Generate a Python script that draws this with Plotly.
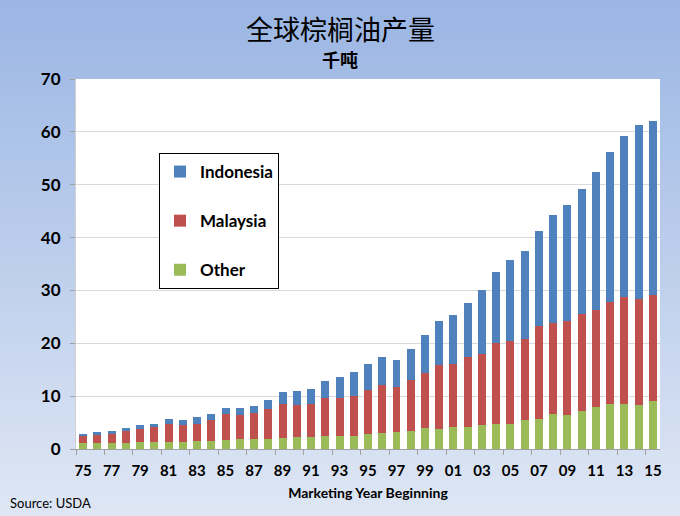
import plotly.graph_objects as go

years = list(range(1975, 2016))
other = [1.2, 1.2, 1.2, 1.2, 1.4, 1.4, 1.4, 1.4, 1.6, 1.6,
         1.75, 1.9, 1.95, 1.9, 2.1, 2.3, 2.3, 2.5, 2.5, 2.5,
         2.8, 3.0, 3.2, 3.4, 4.0, 3.8, 4.2, 4.2, 4.5, 4.8,
         4.8, 5.5, 5.7, 6.7, 6.4, 7.2, 8.0, 8.6, 8.6, 8.4, 9.1]
malaysia = [1.3, 1.4, 1.7, 2.2, 2.35, 2.7, 3.35, 3.1, 3.15, 3.9,
            4.85, 4.5, 4.95, 5.7, 6.4, 6.0, 6.2, 7.2, 7.2, 7.6,
            8.3, 9.1, 8.5, 9.7, 10.4, 12.0, 11.8, 13.2, 13.4, 15.3,
            15.6, 15.3, 17.6, 17.1, 17.8, 18.3, 18.3, 19.2, 20.1, 19.9, 20.0]
indonesia = [0.4, 0.65, 0.5, 0.6, 0.85, 0.65, 0.95, 1.0, 1.35, 1.1,
             1.15, 1.35, 1.2, 1.6, 2.3, 2.6, 2.9, 3.2, 3.9, 4.5,
             4.9, 5.3, 5.1, 5.8, 7.1, 8.4, 9.3, 10.2, 12.1, 13.3,
             15.4, 16.6, 18.0, 20.5, 22.0, 23.6, 26.2, 28.4, 30.5, 33.0, 33.0]
tick_years = list(range(1975, 2016, 2))
tick_labels = [f"{y % 100:02d}" for y in tick_years]

W, H = 680, 516
ML, MR, MT, MB = 76, 20, 79, 67
pw, ph = W - ML - MR, H - MT - MB

fig = go.Figure()
series = [("Other", other, "#9bbb59", 3), ("Malaysia", malaysia, "#c0504d", 2),
          ("Indonesia", indonesia, "#4f81bd", 1)]
for name, vals, col, rank in series:
    fig.add_trace(go.Bar(x=years, y=vals, name=name, marker_color=col,
                         marker_line_width=0, legendgroup=name, legendrank=rank))

# background gradient bands
shapes = []
n = 80
top = (155, 182, 228)
bot = (222, 230, 244)
y_lo = -MB / ph
y_hi = 1 + MT / ph
for i in range(n):
    t = i / (n - 1)
    c = tuple(round(top[k] + (bot[k] - top[k]) * t) for k in range(3))
    y1 = y_hi - (y_hi - y_lo) * i / n
    y0 = y_hi - (y_hi - y_lo) * (i + 1) / n
    shapes.append(dict(type="rect", xref="paper", yref="paper",
                       x0=-ML / pw - 0.01, x1=1 + MR / pw + 0.01,
                       y0=y0 - 0.002, y1=y1 + 0.002,
                       fillcolor=f"rgb{c}", line_width=0, layer="below"))
shapes.append(dict(type="rect", xref="paper", yref="paper", x0=0, x1=1, y0=0, y1=1,
                   fillcolor="white", line_width=0, layer="below"))

fig.update_layout(
    width=W, height=H,
    margin=dict(l=ML, r=MR, t=MT, b=MB),
    paper_bgcolor="rgb(190,206,236)",
    plot_bgcolor="white",
    barmode="stack",
    bargap=0.44,
    shapes=shapes,
    font=dict(family="Lato, Arial", color="black"),
    legend=dict(x=(159 - ML) / pw, y=(449 - 153) / ph, xanchor="left", yanchor="top",
                bgcolor="white", bordercolor="black", borderwidth=1,
                traceorder="grouped", tracegroupgap=24,
                font=dict(size=17, weight="bold", family="Lato, Arial"),
                itemwidth=30),
    xaxis=dict(range=[1974.5, 2015.5], tickvals=tick_years, ticktext=tick_labels,
               ticks="", showgrid=False, showline=True, linecolor="#a0a0a0",
               tickfont=dict(size=15, weight="bold"), ticklabelstandoff=8,
               minor=dict(ticks="outside", tick0=1974.5, dtick=2, ticklen=5,
                          tickcolor="#a0a0a0", showgrid=False),
               title=dict(text="Marketing Year Beginning",
                          font=dict(size=14, weight="bold"), standoff=10)),
    yaxis=dict(range=[0, 70], dtick=10, showgrid=True, gridcolor="#d9d9d9",
               ticks="outside", ticklen=5, tickcolor="#a0a0a0",
               showline=True, linecolor="#d0d0d0", zeroline=False,
               tickfont=dict(size=17, weight="bold"), ticklabelstandoff=6),
    annotations=[
        dict(text="全球棕榈油产量", xref="paper", yref="paper",
             x=(340 - ML) / pw, y=1 + (MT - 28) / ph, showarrow=False,
             xanchor="center", yanchor="middle",
             font=dict(family="Noto Sans CJK SC", size=27, color="black")),
        dict(text="千吨", xref="paper", yref="paper",
             x=(340 - ML) / pw, y=1 + (MT - 59) / ph, showarrow=False,
             xanchor="center", yanchor="middle",
             font=dict(family="Noto Sans CJK SC", size=18, color="black", weight="bold")),
        dict(text="Source: USDA", xref="paper", yref="paper",
             x=-(ML - 8) / pw, y=-(503 - 449) / ph, showarrow=False,
             xanchor="left", yanchor="middle",
             font=dict(size=13)),
    ],
)

fig.write_html("out.html")
